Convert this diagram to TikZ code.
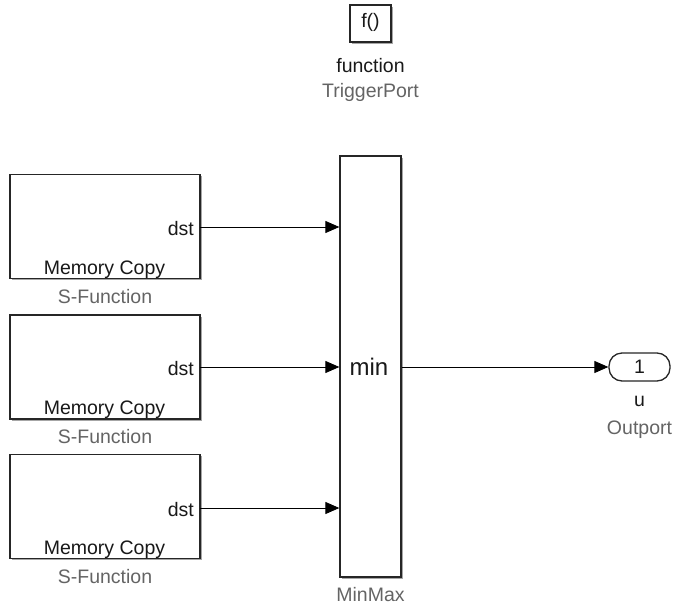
\documentclass[tikz,border=0pt]{standalone}
\usepackage{fontspec}
\setmainfont{Liberation Sans}
\usetikzlibrary{arrows.meta,shadows}
\definecolor{lblgray}{RGB}{100,100,100}
\begin{document}
\begin{tikzpicture}[x=1pt,y=-1pt,
  txt/.style={font=\fontsize{19.5}{22}\selectfont, inner sep=0pt, text=black!90},
  glbl/.style={font=\fontsize{19.5}{22}\selectfont, inner sep=0pt, text=lblgray, anchor=base},
  blk/.style={draw=black!85, line width=1.3pt, fill=white, inner sep=0pt,
    drop shadow={shadow xshift=1.6pt, shadow yshift=-1.6pt, opacity=0.35, fill=black}},
  sig/.style={draw=black, line width=0.9pt, -{Triangle[length=14pt,width=12pt]}}
  ]
\useasboundingbox (0,0) rectangle (676,607);
% trigger port
\node[blk, minimum width=41pt, minimum height=37pt] (trig) at (370.5,23.5) {};
\node[txt] (trigtxt) at (370.5,22) {f()};
\node[txt, anchor=base] (trigname) at (370.5,73) {function};
\node[glbl] (trigtype) at (370.5,98) {TriggerPort};
% S-function blocks
\foreach \n/\cy/\ay in {1/226.5/227, 2/367/367, 3/506.5/508}{
  \node[blk, minimum width=190pt, minimum height=104pt] (sf\n) at (105,\cy) {};
  \node[txt, anchor=east] (dst\n) at (194,\ay+1.5) {dst};
  \node[txt, anchor=base] (mc\n) at (104.5,\cy+47.5) {Memory Copy};
  \node[glbl] (sfl\n) at (105,\cy+76.5) {S-Function};
  \coordinate (out\n) at (200,\ay);
}
% MinMax
\node[blk, minimum width=61pt, minimum height=421pt] (mm) at (370.5,366.5) {};
\node[txt, font=\fontsize{24}{28}\selectfont] (mmtxt) at (369,367) {min};
\node[glbl] (mml) at (370.5,601) {MinMax};
% Outport
\node[draw=black!85, line width=1.3pt, fill=white, rounded corners=13pt,
  minimum width=61pt, minimum height=28pt, inner sep=0pt] (op) at (639.5,367) {};
\node[txt] (optxt) at (639.5,367) {1};
\node[txt, anchor=base] (opn) at (639.5,406) {u};
\node[glbl] (opl) at (639.5,434) {Outport};
% connectors
\draw[sig] (out1) -- (mm.west |- out1);
\draw[sig] (out2) -- (mm.west |- out2);
\draw[sig] (out3) -- (mm.west |- out3);
\draw[sig] (mm.east |- op) -- (op.west);
\end{tikzpicture}
\end{document}
